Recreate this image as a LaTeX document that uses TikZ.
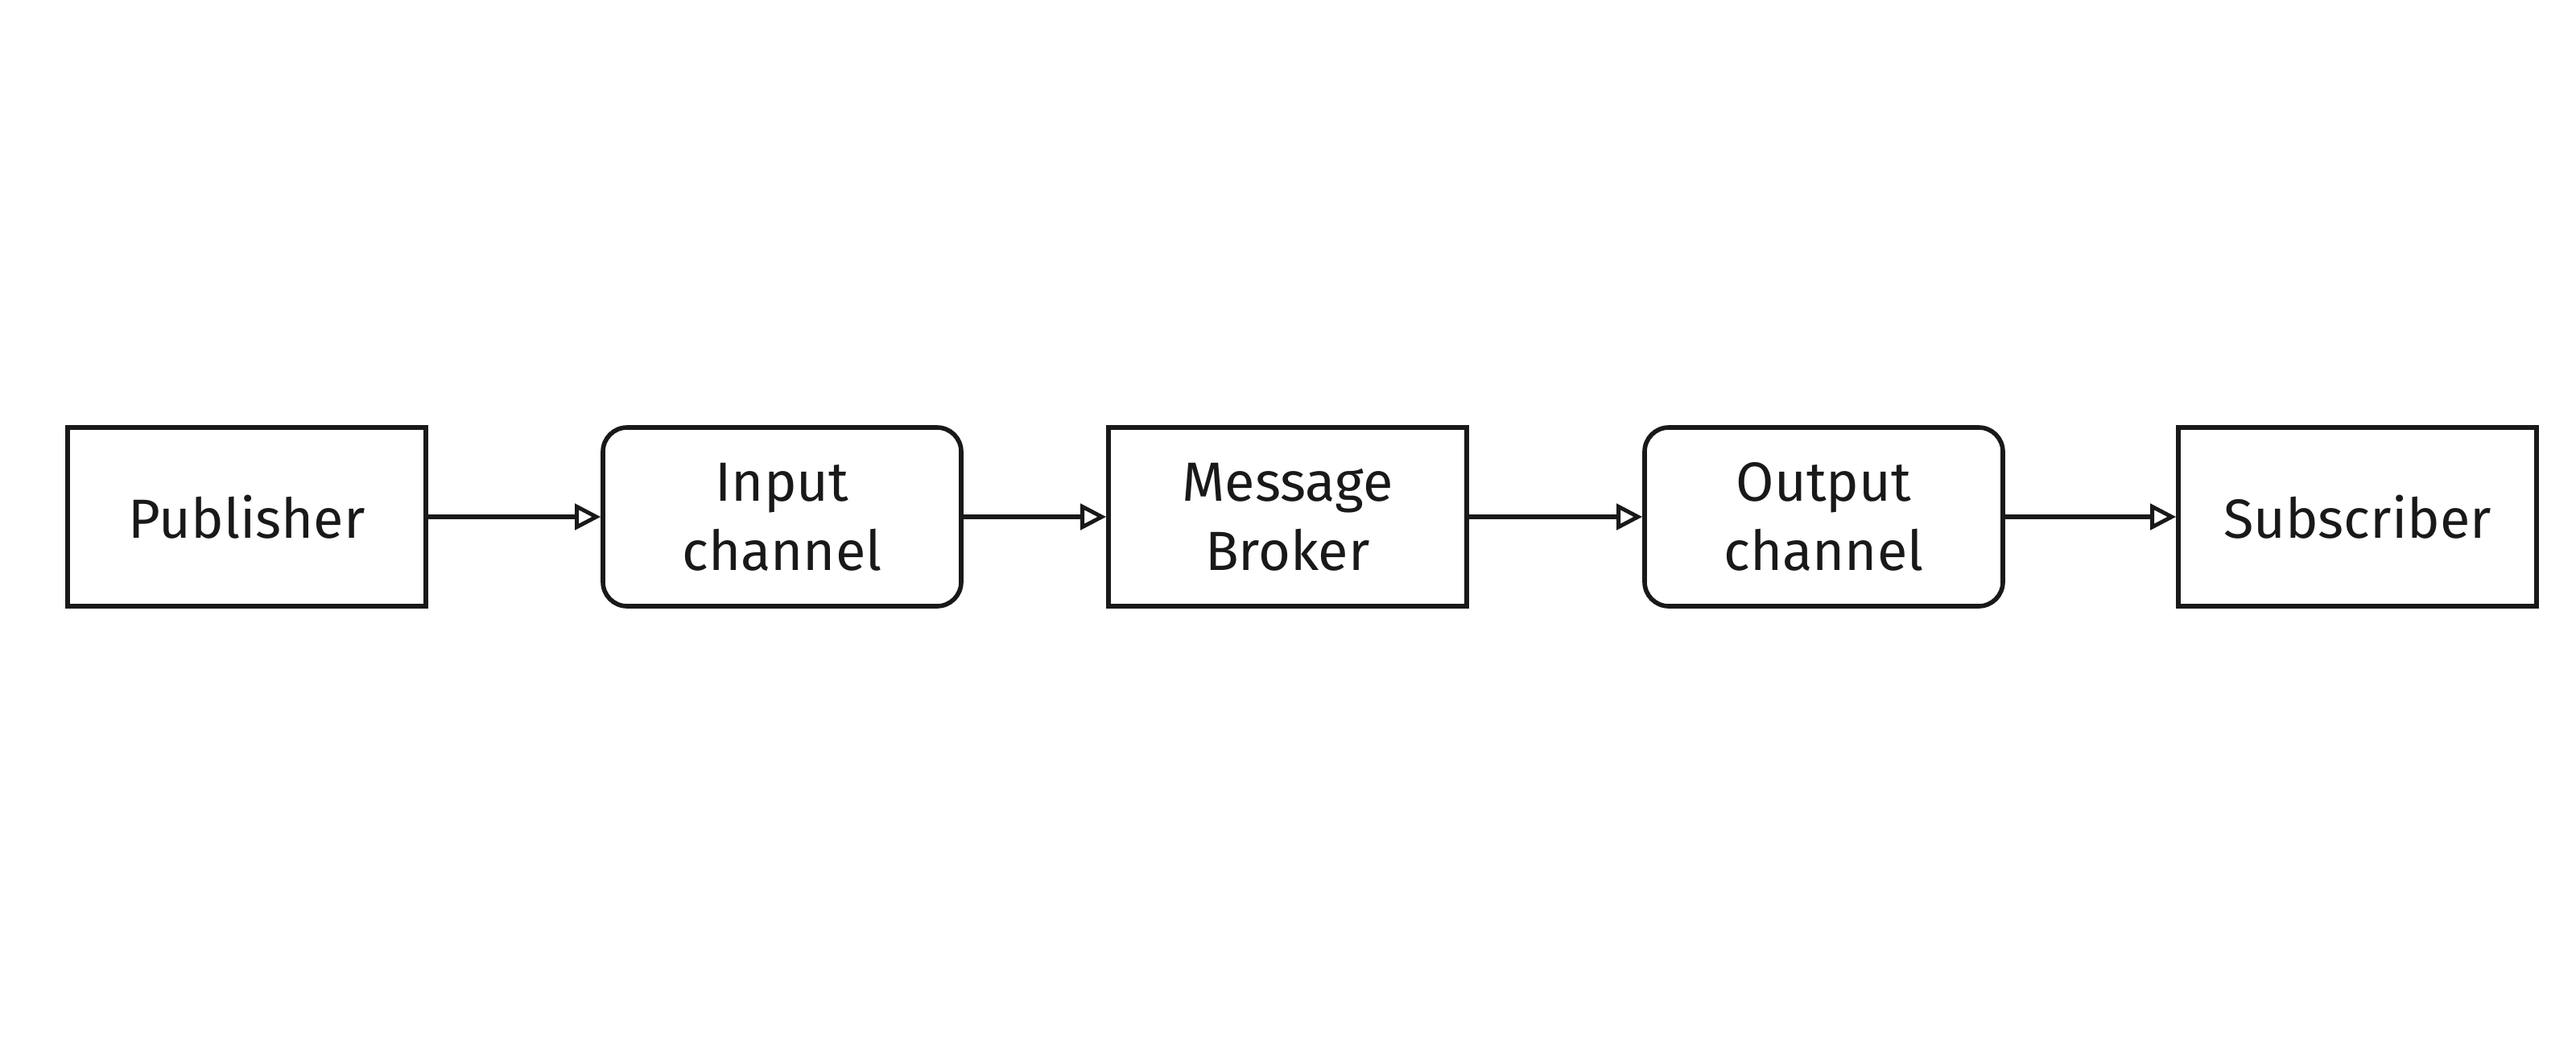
\documentclass[tikz,border=0pt]{standalone}
\usepackage{fontspec}
\setmainfont{Fira Sans}
\usetikzlibrary{arrows.meta}
\tikzset{
  box/.style={draw=black!90, line width=1.6pt, minimum width=4.45cm, minimum height=2.22cm,
    align=center, font=\fontsize{19.5}{24.5}\selectfont, text=black!90, inner sep=0pt},
  chan/.style={box, rounded corners=0.3cm},
  conn/.style={draw=black!90, line width=1.6pt, -{Triangle[open, length=0.32cm, width=0.32cm, line width=1.4pt]}}
}
\begin{document}
\begin{tikzpicture}
\useasboundingbox (0,0) rectangle (32,13.12);
\node[box]  (pub) at (3.065,6.70) {Publisher};
\node[chan] (in)  at (9.715,6.70) {Input\\channel};
\node[box]  (mb)  at (15.995,6.70) {Message\\Broker};
\node[chan] (out) at (22.655,6.70) {Output\\channel};
\node[box]  (sub) at (29.285,6.70) {Subscriber};
\draw[conn] (pub) -- (in);
\draw[conn] (in) -- (mb);
\draw[conn] (mb) -- (out);
\draw[conn] (out) -- (sub);
\end{tikzpicture}
\end{document}
